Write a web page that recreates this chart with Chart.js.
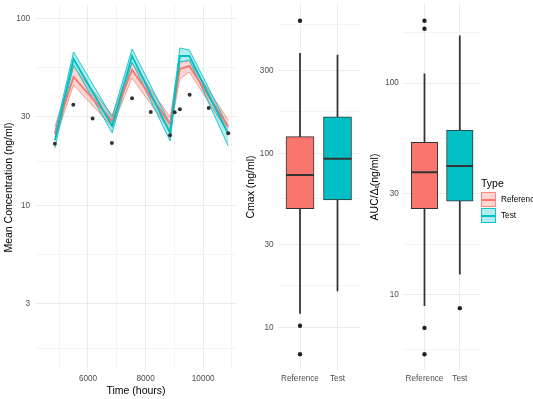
<!DOCTYPE html>
<html>
<head>
<meta charset="utf-8">
<script src="https://cdn.jsdelivr.net/npm/chart.js@4.4.0/dist/chart.umd.min.js"></script>
<style>
  html, body { margin: 0; padding: 0; background: #fff; overflow: hidden; }
  body { width: 533px; height: 399px; position: relative; font-family: "Liberation Sans", Arial, sans-serif; }
  canvas { position: absolute; top: 0; }
  .lg { position: absolute; white-space: nowrap; }
  .ttl { left: 481px; top: 177px; font-size: 10.5px; line-height: 12px; color: #000; }
  .lab { left: 501px; font-size: 8.2px; line-height: 10px; color: #000; }
  .key { left: 481px; width: 15px; height: 15px; box-sizing: border-box; }
  .key::after { content: ""; position: absolute; left: 0; right: 0; top: 6px; height: 1.5px; }
  .key.ref { top: 192px; background: rgba(248,118,109,0.3); border: 1px solid rgba(248,118,109,0.8); }
  .key.ref::after { background: #F8766D; }
  .key.test { top: 208px; background: rgba(0,191,196,0.3); border: 1px solid rgba(0,191,196,0.9); }
  .key.test::after { background: #00BFC4; }
</style>
</head>
<body>
<canvas id="conc" width="240" height="399" style="left:0px"></canvas>
<canvas id="cmax" width="122" height="399" style="left:240px"></canvas>
<canvas id="auc" width="121" height="399" style="left:362px"></canvas>
<div class="lg ttl">Type</div>
<div class="lg key ref"></div>
<div class="lg lab" style="top:194.5px">Reference</div>
<div class="lg key test"></div>
<div class="lg lab" style="top:210.5px">Test</div>
<script>
// predicted profiles
const predTime = [4850, 5500, 6840, 7530, 8850, 9190, 9520, 10870];
const refLow   = [22.5, 44.4, 26.5, 48.3, 25.2, 47.8, 52.1, 24.6];
const refMid   = [24.3, 49.0, 28.5, 53.4, 27.5, 54.0, 56.1, 26.5];
const refHigh  = [26.5, 55.4, 30.7, 58.2, 29.9, 58.9, 59.6, 28.8];
const testLow  = [20.4, 56.8, 24.6, 58.9, 22.3, 58.9, 60.3, 20.9];
const testMid  = [22.5, 61.1, 26.8, 63.4, 24.6, 63.4, 63.4, 24.3];
const testHigh = [24.6, 66.6, 29.9, 69.1, 27.5, 70.0, 68.3, 26.5];

// observed means
const obsTime = [4850, 5490, 6160, 6830, 7530, 8180, 8850, 9010, 9190, 9530, 10190, 10870];
const obsConc = [21.5, 34.8, 29.4, 21.7, 37.7, 31.8, 23.9, 31.7, 32.9, 39.4, 33.4, 24.5];

// boxplots
const groups = ['Reference', 'Test'];
const groupPos = [1, 2];
const cmaxLow  = [12.0, 16.2];
const cmaxQ1   = [48.1, 54.0];
const cmaxMed  = [75.0, 93.0];
const cmaxQ3   = [124.6, 162];
const cmaxHigh = [375, 367];
const cmaxOutGroup = [1, 1, 1];
const cmaxOut  = [578, 10.2, 7.0];
const aucLow   = [8.87, 12.5];
const aucQ1    = [25.5, 27.7];
const aucMed   = [37.9, 40.6];
const aucQ3    = [52.6, 60.0];
const aucHigh  = [110.7, 167.5];
const aucOutGroup = [1, 1, 1, 1, 2];
const aucOut   = [197.6, 181, 6.96, 5.22, 8.63];

// tick labels
const timeTicks = [6000, 8000, 10000];
const timeMinor = [5000, 7000, 9000, 11000];
const concTicks = [3, 10, 30, 100];
const concMinor = [1.73, 5.48, 17.3, 54.8];
const cmaxTicks = [10, 30, 100, 300];
const cmaxMinor = [17.3, 54.8, 173, 548];
const aucTicks  = [10, 30, 100];
const aucMinor  = [5.48, 17.3, 54.8, 173];

const RED = '#F8766D', TEAL = '#00BFC4';
Chart.defaults.font.family = '"Liberation Sans", Arial, sans-serif';
Chart.defaults.animation = false;
Chart.defaults.events = [];
Chart.defaults.plugins.legend.display = false;
Chart.defaults.plugins.tooltip.enabled = false;

function gridColor(major) {
  return c => (c.tick && major.includes(c.tick.value)) ? '#ebebeb' : '#f4f4f4';
}

// keep the plot area exactly where the layout padding puts it
function noEdgePad(s) {
  s.paddingTop = 0; s.paddingBottom = 0; s.paddingLeft = 0; s.paddingRight = 0;
}

function logAxis(min, max, major, minor, title, titlePad, width, labelPad) {
  return {
    type: 'logarithmic', min: min, max: max, bounds: 'data',
    afterBuildTicks: s => { s.ticks = major.concat(minor).sort((a, b) => a - b).map(v => ({value: v})); },
    afterFit: s => { s.width = width; noEdgePad(s); },
    ticks: { autoSkip: false, padding: labelPad, color: '#4d4d4d', font: {size: 8.2},
             callback: v => major.includes(v) ? String(v) : '' },
    grid: { drawTicks: false, color: gridColor(major), lineWidth: 1 },
    border: { display: false },
    title: { display: true, text: title, color: '#000', font: {size: 10.5}, padding: {top: titlePad, bottom: 0} }
  };
}

function groupAxis() {
  return {
    type: 'linear', min: 0.4, max: 2.6, bounds: 'data', offset: false,
    afterBuildTicks: s => { s.ticks = groupPos.map(v => ({value: v})); },
    afterFit: s => { s.height = 29; noEdgePad(s); },
    ticks: { autoSkip: false, maxRotation: 0, padding: 4, color: '#4d4d4d', font: {size: 8.2},
             callback: v => groups[groupPos.indexOf(v)] || '' },
    grid: { drawTicks: false, color: '#ebebeb', offset: false },
    border: { display: false }
  };
}

function pts(xs, ys) { return xs.map((x, i) => ({x: x, y: ys[i]})); }

// concentration-time panel
new Chart(document.getElementById('conc'), {
  type: 'line',
  data: {
    datasets: [
      { data: pts(predTime, refHigh), borderColor: 'rgba(248,118,109,0.7)', borderWidth: 1,
        backgroundColor: 'rgba(248,118,109,0.3)', fill: '+1', pointRadius: 0, order: 4 },
      { data: pts(predTime, refLow), borderColor: 'rgba(248,118,109,0.7)', borderWidth: 1,
        fill: false, pointRadius: 0, order: 4 },
      { data: pts(predTime, testHigh), borderColor: 'rgba(0,191,196,0.85)', borderWidth: 1,
        backgroundColor: 'rgba(0,191,196,0.3)', fill: '+1', pointRadius: 0, order: 3 },
      { data: pts(predTime, testLow), borderColor: 'rgba(0,191,196,0.85)', borderWidth: 1,
        fill: false, pointRadius: 0, order: 3 },
      { data: pts(predTime, refMid), borderColor: RED, borderWidth: 1.8, fill: false, pointRadius: 0, order: 2 },
      { data: pts(predTime, testMid), borderColor: TEAL, borderWidth: 1.8, fill: false, pointRadius: 0, order: 1 },
      { data: pts(obsTime, obsConc), showLine: false, pointRadius: 2, pointBackgroundColor: '#333',
        pointBorderWidth: 0, order: 0 }
    ]
  },
  options: {
    responsive: false,
    layout: { autoPadding: false, padding: {top: 5, right: 3, left: 0, bottom: 0} },
    elements: { line: { tension: 0 } },
    scales: {
      x: {
        type: 'linear', min: 4160, max: 11174, bounds: 'data',
        afterBuildTicks: s => { s.ticks = timeTicks.concat(timeMinor).sort((a, b) => a - b).map(v => ({value: v})); },
        afterFit: s => { s.height = 29; noEdgePad(s); },
        ticks: { autoSkip: false, maxRotation: 0, padding: 4, color: '#4d4d4d', font: {size: 8.2},
                 callback: v => timeTicks.includes(v) ? String(v) : '' },
        grid: { drawTicks: false, color: gridColor(timeTicks) },
        border: { display: false },
        title: { display: true, text: 'Time (hours)', color: '#000', font: {size: 10.5}, padding: {top: 0, bottom: 2} }
      },
      y: logAxis(1.327, 118.8, concTicks, concMinor, 'Mean Concentration (ng/ml)', 2.7, 35, 5)
    }
  }
});

function boxDatasets(low, q1, med, q3, high, outGroup, out, width) {
  return [
    { type: 'bar', data: pts(groupPos, groupPos.map((g, i) => [low[i], high[i]])),
      backgroundColor: '#333', barThickness: 1.1, grouped: false, order: 3 },
    { type: 'bar', data: pts(groupPos, groupPos.map((g, i) => [q1[i], q3[i]])),
      backgroundColor: [RED, TEAL], borderColor: '#333', borderWidth: 1, borderSkipped: false,
      barThickness: width, grouped: false, order: 2 },
    { type: 'scatter', data: pts(groupPos, med), pointStyle: 'line', pointRadius: width / 2,
      pointBorderColor: '#333', pointBorderWidth: 2, order: 1 },
    { type: 'scatter', data: pts(outGroup, out), pointRadius: 2.2, pointBackgroundColor: '#222',
      pointBorderWidth: 0, order: 0 }
  ];
}

new Chart(document.getElementById('cmax'), {
  type: 'bar',
  data: { datasets: boxDatasets(cmaxLow, cmaxQ1, cmaxMed, cmaxQ3, cmaxHigh, cmaxOutGroup, cmaxOut, 28) },
  options: {
    responsive: false,
    layout: { autoPadding: false, padding: {top: 4, right: 2, left: 0, bottom: 0} },
    scales: {
      x: groupAxis(),
      y: logAxis(5.68, 721, cmaxTicks, cmaxMinor, 'Cmax (ng/ml)', 5.2, 37.5, 4)
    }
  }
});

new Chart(document.getElementById('auc'), {
  type: 'bar',
  data: { datasets: boxDatasets(aucLow, aucQ1, aucMed, aucQ3, aucHigh, aucOutGroup, aucOut, 26.5) },
  options: {
    responsive: false,
    layout: { autoPadding: false, padding: {top: 4, right: 2, left: 0, bottom: 0} },
    scales: {
      x: groupAxis(),
      y: logAxis(4.40, 237, aucTicks, aucMinor, 'AUC/\u0394\u209C(ng/ml)', 6.7, 41.3, 4.5)
    }
  }
});
</script>
</body>
</html>
